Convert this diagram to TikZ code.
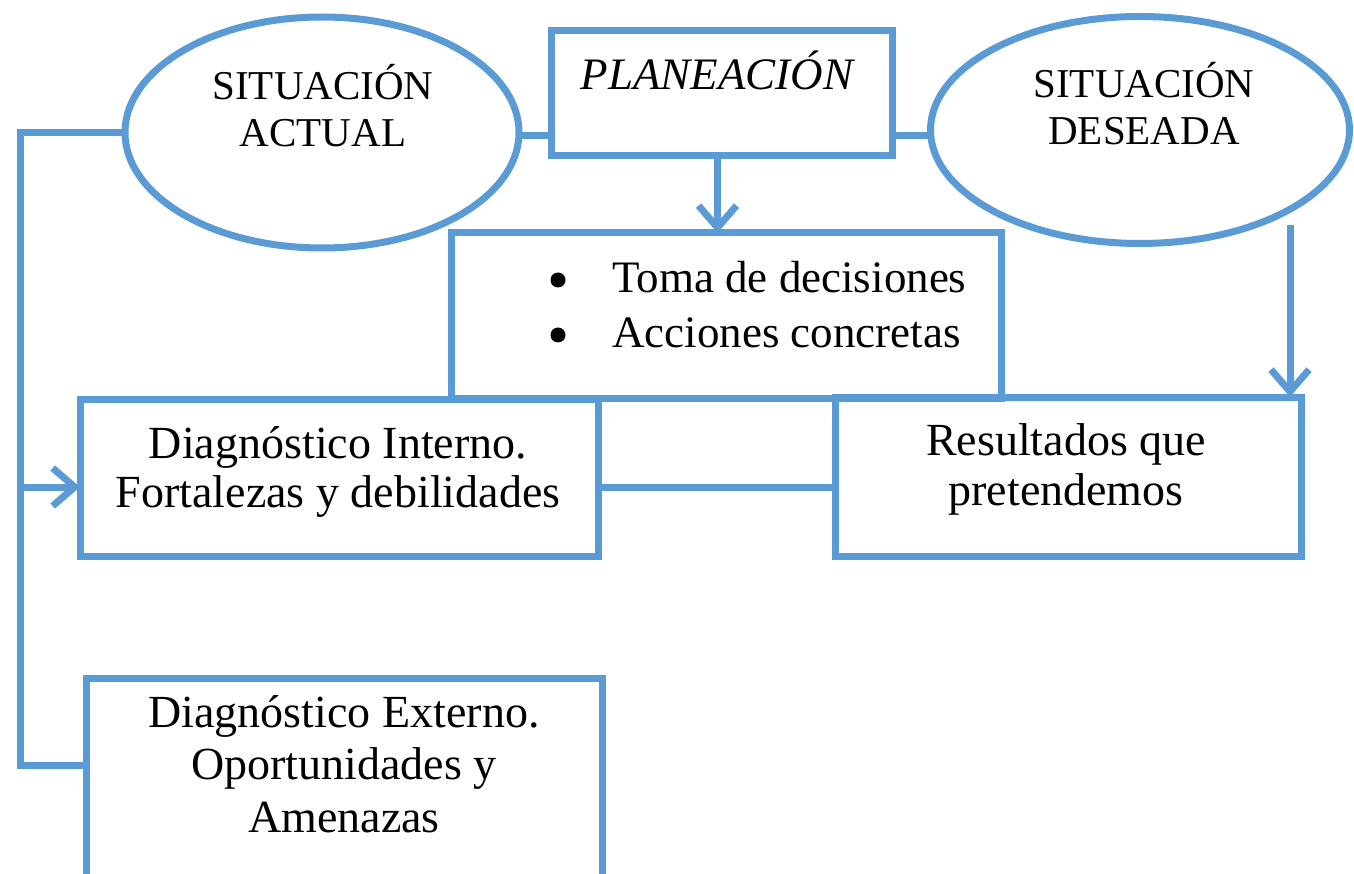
\documentclass[tikz,border=0pt]{standalone}
\usepackage{fontspec}
\setmainfont{Liberation Serif}
\usetikzlibrary{shapes.geometric,arrows.meta}
\definecolor{acc}{HTML}{5B9BD5}
\tikzset{
  shp/.style={draw=acc, line width=7pt, inner sep=0pt, outer sep=0pt},
  boxshape/.style={shp, rectangle},
  ellshape/.style={shp, ellipse},
  bul/.style={circle, fill=black, minimum size=15pt, inner sep=0pt},
  conn/.style={draw=acc, line width=7pt},
  arr/.style={conn, -{Straight Barb[length=22pt,width=38pt]}},
  btxt/.style={inner sep=0pt, font=\fontsize{46}{50}\selectfont, align=center, anchor=base},
  etxt/.style={inner sep=0pt, font=\fontsize{41}{47.5}\selectfont, align=center, anchor=base},
  ltxt/.style={inner sep=0pt, anchor=base west, font=\fontsize{45}{55}\selectfont},
}
\begin{document}
\begin{tikzpicture}[x=1pt,y=-1pt]
\useasboundingbox (0,0) rectangle (1354,874);
\clip (0,0) rectangle (1354,874);
% shapes
\node[ellshape, minimum width=394pt, minimum height=231pt] (sa) at (322,132.5) {};
\node[ellshape, minimum width=419pt, minimum height=227pt] (sd) at (1140,130) {};
\node[boxshape, minimum width=341pt, minimum height=125pt] (plan) at (721.5,93.5) {};
\node[boxshape, minimum width=550pt, minimum height=165pt] (toma) at (726,315.5) {};
\node[boxshape, minimum width=518pt, minimum height=157pt] (di) at (339,477.5) {};
\node[boxshape, minimum width=466pt, minimum height=159pt] (res) at (1068,476.5) {};
\node[boxshape, minimum width=516pt, minimum height=230pt] (de) at (344,793) {};
% texts (base anchor = baseline of the last line)
\node[etxt] (tsa) at (323,147) {SITUACIÓN\\ACTUAL};
\node[etxt] (tsd) at (1144,145) {SITUACIÓN\\DESEADA};
\node[btxt, font=\fontsize{45}{51}\selectfont\itshape] (tplan) at (717,90) {PLANEACIÓN};
\node[bul] (b1) at (558,280) {};
\node[bul] (b2) at (558,335) {};
\node[ltxt] (ttoma1) at (612,293) {Toma de decisiones};
\node[ltxt] (ttoma2) at (612,348) {Acciones concretas};
\node[btxt, font=\fontsize{46}{49}\selectfont] (tdi) at (338,507) {Diagnóstico Interno.\\Fortalezas y debilidades};
\node[btxt] (tres) at (1066,505) {Resultados que\\pretendemos};
\node[btxt, font=\fontsize{46}{52.5}\selectfont] (tde) at (344,832) {Diagnóstico Externo.\\Oportunidades y\\Amenazas};
% connectors
\coordinate (lbot) at (20,765);
\coordinate (sdarr) at (1290,225);
\draw[conn] ([yshift=-3pt]sa.east) -- ([yshift=-3pt]sa.east -| plan.west);
\draw[conn] ([yshift=-6pt]sd.west) -- ([yshift=-6pt]sd.west -| plan.east);
\draw[arr] ([xshift=-4pt]plan.south) -- ([xshift=-4pt]plan.south |- toma.north);
\draw[conn] (sa.west) -| (lbot) -- (lbot -| de.west);
\draw[arr] ([yshift=-9.5pt]di.west -| lbot) -- ([yshift=-9.5pt]di.west);
\draw[conn] ([yshift=-10pt]di.east) -- ([yshift=-10pt]di.east -| res.west);
\draw[arr] (sdarr) -- (sdarr |- res.north);
\end{tikzpicture}
\end{document}
